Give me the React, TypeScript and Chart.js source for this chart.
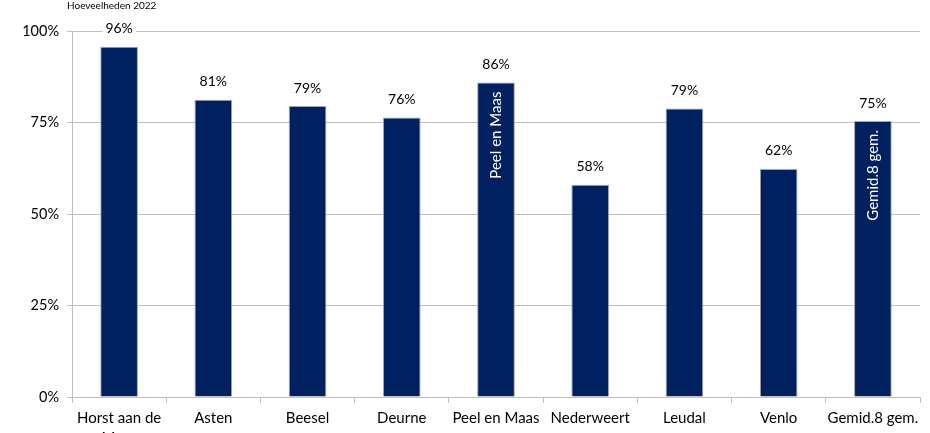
import React, { useEffect, useRef } from "react";
import { Chart, registerables } from "chart.js";

Chart.register(...registerables);

const categories: (string | string[])[] = [
  ["Horst aan de", "Maas"],
  "Asten",
  "Beesel",
  "Deurne",
  "Peel en Maas",
  "Nederweert",
  "Leudal",
  "Venlo",
  "Gemid.8 gem.",
];
const values = [95.7, 81.2, 79.5, 76.4, 85.9, 58.0, 78.8, 62.3, 75.4];
const valueLabels = ["96%", "81%", "79%", "76%", "86%", "58%", "79%", "62%", "75%"];
const innerLabels = ["", "", "", "", "Peel en Maas", "", "", "", "Gemid.8 gem."];
const yTicks = [0, 25, 50, 75, 100];
const title = "Hoeveelheden 2022";

const FONT = "Lato, 'Open Sans', sans-serif";
const GRID = "#bfbfbf";

const labelPlugin = {
  id: "labels",
  afterDatasetsDraw(chart: any) {
    const ctx = chart.ctx;
    const meta = chart.getDatasetMeta(0);
    ctx.save();
    meta.data.forEach((bar: any, i: number) => {
      const x = bar.x;
      const y = bar.y;
      ctx.font = `14px ${FONT}`;
      const t = valueLabels[i];
      const w = ctx.measureText(t).width;
      const ly = y - 18;
      ctx.fillStyle = "#ffffff";
      ctx.fillRect(x - w / 2 - 3, ly - 8, w + 6, 16);
      ctx.fillStyle = "#000000";
      ctx.textAlign = "center";
      ctx.textBaseline = "middle";
      ctx.fillText(t, x, ly);
      if (innerLabels[i]) {
        ctx.save();
        ctx.translate(x, y + 9);
        ctx.rotate(-Math.PI / 2);
        ctx.font = `15px ${FONT}`;
        ctx.fillStyle = "#ffffff";
        ctx.textAlign = "right";
        ctx.textBaseline = "middle";
        ctx.fillText(innerLabels[i], 0, 0);
        ctx.restore();
      }
    });
    ctx.font = `10px ${FONT}`;
    ctx.fillStyle = "#000000";
    ctx.textAlign = "left";
    ctx.textBaseline = "middle";
    ctx.fillText(title, 67, 6);
    ctx.restore();
  },
};

export default function App() {
  const ref = useRef<HTMLCanvasElement>(null);
  useEffect(() => {
    const chart = new Chart(ref.current!, {
      type: "bar",
      data: {
        labels: categories,
        datasets: [
          {
            data: values,
            backgroundColor: "#00205f",
            borderColor: "#a6a6a6",
            borderWidth: 1,
            barPercentage: 0.4,
            categoryPercentage: 1,
          },
        ],
      },
      options: {
        responsive: false,
        animation: false,
        devicePixelRatio: 1,
        layout: { padding: { top: 31, right: 10, left: 0, bottom: 0 } },
        plugins: { legend: { display: false }, tooltip: { enabled: false } },
        scales: {
          x: {
            offset: true,
            grid: {
              offset: true,
              drawOnChartArea: false,
              drawTicks: true,
              tickLength: 6,
              color: GRID,
            },
            border: { color: GRID },
            ticks: {
              color: "#000",
              font: { family: FONT, size: 15, lineHeight: 1.35 },
              maxRotation: 0,
              autoSkip: false,
              padding: 5,
            },
            afterFit(scale: any) {
              scale.height = 48;
            },
          },
          y: {
            min: 0,
            max: 100,
            afterBuildTicks(scale: any) {
              scale.ticks = yTicks.map((v) => ({ value: v }));
            },
            grid: { color: GRID, tickLength: 5 },
            border: { color: GRID },
            ticks: {
              color: "#000",
              font: { family: FONT, size: 14.5 },
              padding: 8,
              callback: (v: any) => v + "%",
            },
            afterFit(scale: any) {
              scale.width = 72;
            },
          },
        },
      },
      plugins: [labelPlugin],
    });
    return () => chart.destroy();
  }, []);
  return (
    <div style={{ position: "fixed", left: 0, top: 0, width: 930, height: 445, background: "#fff" }}>
      <canvas ref={ref} width={930} height={445} />
    </div>
  );
}
